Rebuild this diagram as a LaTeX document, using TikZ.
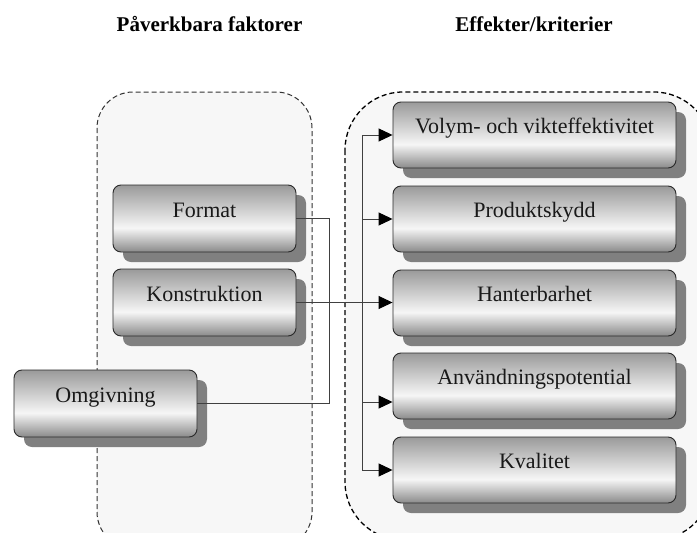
\documentclass[tikz,border=0pt]{standalone}
\usepackage{fontspec}
\setmainfont{Liberation Serif}
\usetikzlibrary{arrows.meta,shadows}

\definecolor{panelfill}{HTML}{F7F7F7}
\definecolor{btop}{HTML}{9A9A9A}
\definecolor{blight}{HTML}{F6F6F6}
\definecolor{bbot}{HTML}{8A8A8A}
\definecolor{shadowgray}{HTML}{808080}
\definecolor{boxline}{HTML}{2A2A2A}
\definecolor{wire}{HTML}{404040}

% gray-white-gray bevel used for every box
\pgfdeclareverticalshading{boxshade}{100bp}{color(0bp)=(bbot); color(25bp)=(bbot); color(43bp)=(blight); color(75bp)=(btop); color(100bp)=(btop)}

\newcommand\boxfont{\fontsize{22}{24}\selectfont}
\newcommand\headfont{\bfseries\fontsize{21}{24}\selectfont}

\tikzset{
  panel/.style={fill=panelfill, dashed},
  factorbox/.style={draw=boxline, line width=0.9pt, rounded corners=8pt,
    shade, shading=boxshade, minimum height=67pt, inner sep=0pt,
    text height=14pt, text depth=17pt, font=\boxfont, text=black!90,
    general shadow={fill=shadowgray, shadow xshift=10pt, shadow yshift=-10pt}},
  leftbox/.style={factorbox, minimum width=183pt},
  rightbox/.style={factorbox, minimum width=283pt, minimum height=66pt},
  wireline/.style={draw=wire, line width=1pt},
  feed/.style={wireline, -{Triangle[length=14pt,width=13pt,color=black]}},
  heading/.style={font=\headfont, anchor=base, inner sep=0pt}
}

\begin{document}
\begin{tikzpicture}[x=1pt,y=-1pt]
  \useasboundingbox (0,0) rectangle (697,533);
  \fill[white] (0,0) rectangle (697,533);
  \clip (0,0) rectangle (697,533);

  % headings
  \node[heading] (hleft) at (209.5,31) {Påverkbara faktorer};
  \node[heading] (hright) at (534,31) {Effekter/kriterier};

  % dashed group panels
  \path[panel, draw=black!80, line width=1pt, dash pattern=on 5pt off 3pt,
        rounded corners=36pt] (97,92) rectangle (312,548);
  \path[panel, draw=black, line width=1.3pt, dash pattern=on 5pt off 3pt,
        rounded corners=58pt] (345,92) rectangle (712,540);

  % influencing factors
  \node[leftbox] (fmt) at (204.5,218.5) {Format};
  \node[leftbox] (kon) at (204.5,302.5) {Konstruktion};
  \node[leftbox] (omg) at (105.5,403.5) {Omgivning};

  % effects / criteria
  \node[rightbox] (vol) at (534.5,135) {Volym- och vikteffektivitet};
  \node[rightbox] (pro) at (534.5,219) {Produktskydd};
  \node[rightbox] (han) at (534.5,303) {Hanterbarhet};
  \node[rightbox] (anv) at (534.5,386) {Användningspotential};
  \node[rightbox] (kva) at (534.5,470) {Kvalitet};

  % collector and distributor rails
  \coordinate (jl) at (329,0);
  \coordinate (jr) at (362,0);

  \draw[wireline] (fmt.east) -- (fmt.east -| jl) |- (omg.east);
  \draw[feed] (kon.east) -- (han.west |- kon.east);
  \draw[wireline] (vol.west -| jr) -- (kva.west -| jr);

  \draw[feed] (vol.west -| jr) -- (vol.west);
  \draw[feed] (pro.west -| jr) -- (pro.west);
  \draw[feed] ([yshift=-16pt]anv.west -| jr) -- ([yshift=-16pt]anv.west);
  \draw[feed] (kva.west -| jr) -- (kva.west);
\end{tikzpicture}
\end{document}
